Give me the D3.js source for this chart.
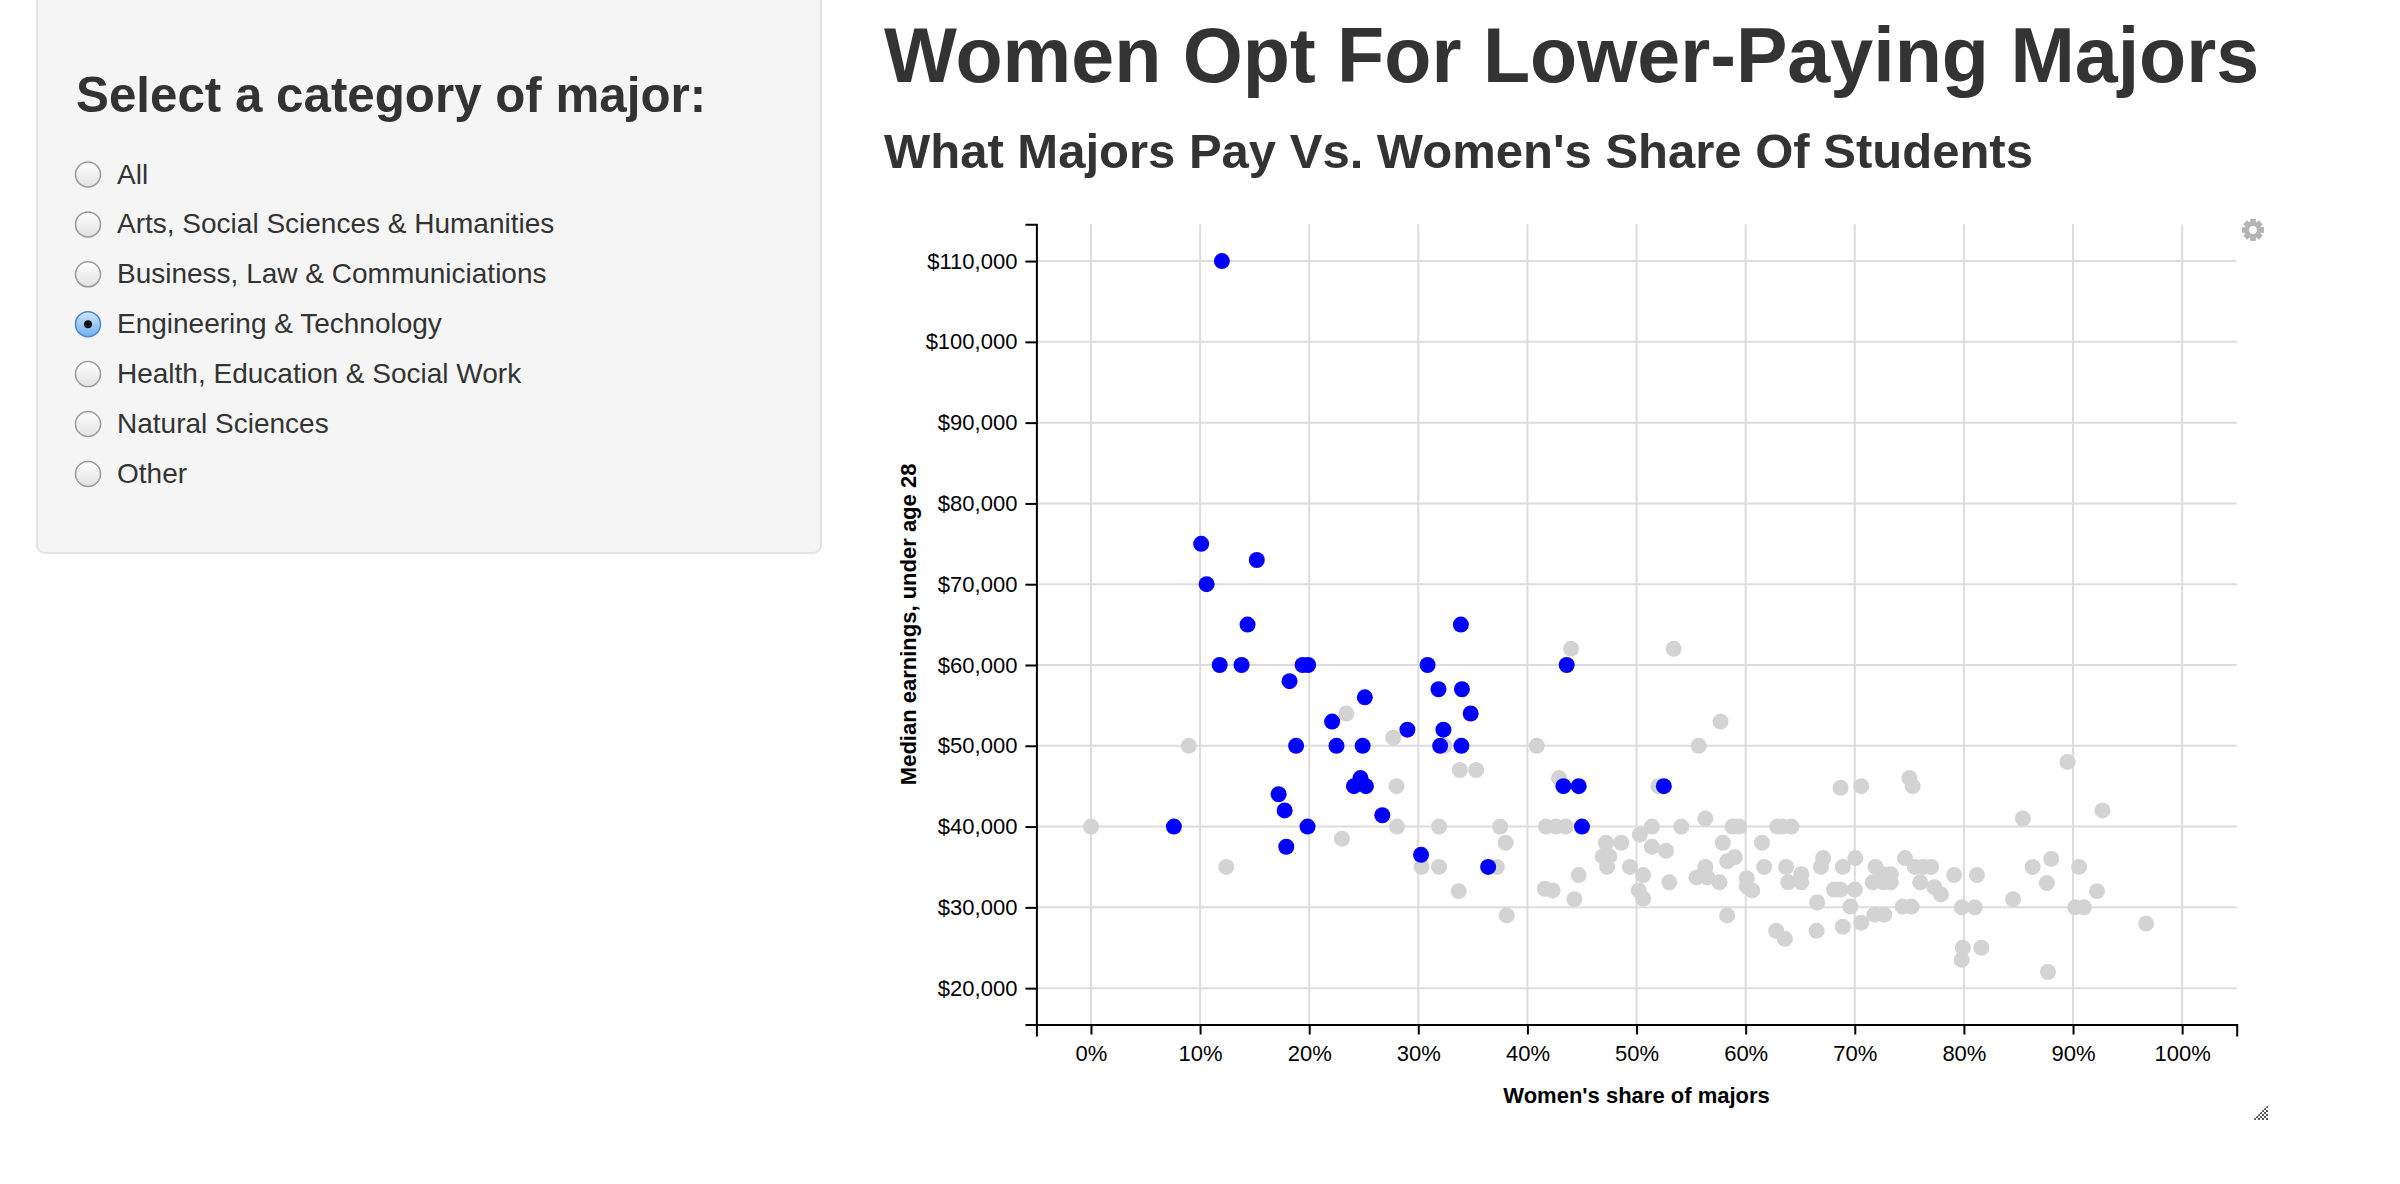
<!DOCTYPE html>
<html>
<head>
<meta charset="utf-8">
<script src="https://cdn.jsdelivr.net/npm/d3@7"></script>
<style>
    body { margin: 0; background: #fff; overflow: hidden; }
    svg { display: block; font-family: "Liberation Sans", Arial, Helvetica, sans-serif; }
</style>
</head>
<body>
<div id="page"></div>
<script>
// categories offered in the side panel
const categories = ["All", "Arts, Social Sciences & Humanities", "Business, Law & Communiciations",
    "Engineering & Technology", "Health, Education & Social Work", "Natural Sciences", "Other"];
const selectedCategory = "Engineering & Technology";

// selected category (blue): women's share and median earnings
const engShare = [0.120, 0.101, 0.152, 0.106, 0.1435, 0.339, 0.118, 0.138, 0.194, 0.199,
    0.3085, 0.436, 0.182, 0.3185, 0.340, 0.251, 0.348, 0.221, 0.290, 0.323,
    0.188, 0.225, 0.249, 0.320, 0.3395, 0.247, 0.241, 0.252, 0.433, 0.447,
    0.525, 0.172, 0.1775, 0.267, 0.076, 0.1985, 0.450, 0.179, 0.3025, 0.364];
const engEarnings = [110000, 75000, 73000, 70000, 65000, 65000, 60000, 60000, 60000, 60000,
    60000, 60000, 58000, 57000, 57000, 56000, 54000, 53000, 52000, 52000,
    50000, 50000, 50000, 50000, 50000, 46000, 45000, 45000, 45000, 45000,
    45000, 44000, 42000, 41400, 40000, 40000, 40000, 37500, 36500, 35000];

// every other major (grey)
const otherShare = [0.000, 0.0897, 0.124, 0.234, 0.277, 0.280, 0.2805, 0.230, 0.319, 0.303,
    0.319, 0.337, 0.338, 0.353, 0.375, 0.380, 0.372, 0.381, 0.324,
    0.440, 0.534, 0.577, 0.557, 0.4085, 0.429, 0.520, 0.687, 0.706, 0.563,
    0.417, 0.426, 0.435, 0.514, 0.541, 0.588, 0.594, 0.629, 0.634, 0.642,
    0.472, 0.486, 0.503, 0.514, 0.527, 0.469, 0.475, 0.473, 0.494, 0.506,
    0.447, 0.416, 0.423, 0.443, 0.502, 0.506, 0.530, 0.555, 0.563, 0.565,
    0.576, 0.579, 0.583, 0.590, 0.583, 0.601, 0.601, 0.606, 0.615, 0.617,
    0.637, 0.639, 0.651, 0.651, 0.6655, 0.628, 0.636, 0.665, 0.671, 0.669,
    0.689, 0.7005, 0.681, 0.687, 0.700, 0.696, 0.689, 0.706, 0.719, 0.7165,
    0.726, 0.733, 0.726, 0.733, 0.718, 0.727, 0.744, 0.752, 0.746,
    0.750, 0.753, 0.895, 0.854, 0.927, 0.755, 0.763, 0.770, 0.760, 0.773,
    0.779, 0.791, 0.812, 0.798, 0.810, 0.845, 0.863, 0.880, 0.876, 0.9055,
    0.922, 0.902, 0.910, 0.967, 0.799, 0.798, 0.816, 0.877];
const otherEarnings = [40000, 50000, 35000, 54000, 51000, 45000, 40000, 38500, 40000, 35000,
    35000, 32000, 47000, 47000, 40000, 38000, 35000, 29000, 50000,
    62000, 62000, 53000, 50000, 50000, 46000, 45000, 44800, 45000, 41000,
    40000, 40000, 40000, 40000, 40000, 40000, 40000, 40000, 40000, 40000,
    38000, 38000, 39000, 37500, 37000, 36300, 36300, 35000, 35000, 34000,
    34000, 32300, 32100, 31000, 32100, 31100, 33100, 33700, 35000, 33700,
    33100, 38000, 35700, 36200, 29000, 33600, 32600, 32100, 38000, 35000,
    35000, 33100, 34100, 33100, 30600, 27100, 26100, 27100, 36100, 35000,
    35000, 36100, 32200, 32200, 32200, 30100, 27600, 28100, 35000, 33100,
    33100, 33100, 34100, 34100, 29100, 29100, 30100, 30100, 36100,
    46000, 45000, 48000, 41000, 42000, 35000, 35000, 35000, 33100, 32500,
    31600, 34000, 34000, 30000, 30000, 31000, 35000, 36000, 33000, 35000,
    32000, 30000, 30000, 28000, 25000, 23500, 25000, 22000];

// axis ticks
const xTicks = [0, 0.1, 0.2, 0.3, 0.4, 0.5, 0.6, 0.7, 0.8, 0.9, 1.0];
const yTicks = [20000, 30000, 40000, 50000, 60000, 70000, 80000, 90000, 100000, 110000];

const W = 2400, H = 1184;
const plot = {left: 1036.4, right: 2236.7, top: 224.3, bottom: 1024.5};
const chartFont = "'Helvetica Neue', 'Liberation Sans', Arial, sans-serif";

let svg = d3.select("#page").append("svg")
    .attr("width", W)
    .attr("height", H);

// gradients for the radio buttons, checker for the resize handle
let defs = svg.append("defs");
let offGrad = defs.append("linearGradient").attr("id", "radioOff")
    .attr("x1", 0).attr("y1", 0).attr("x2", 0).attr("y2", 1);
offGrad.append("stop").attr("offset", "0%").attr("stop-color", "#ffffff");
offGrad.append("stop").attr("offset", "100%").attr("stop-color", "#e2e2e2");
let onGrad = defs.append("linearGradient").attr("id", "radioOn")
    .attr("x1", 0).attr("y1", 0).attr("x2", 0).attr("y2", 1);
onGrad.append("stop").attr("offset", "0%").attr("stop-color", "#cfe6fb");
onGrad.append("stop").attr("offset", "100%").attr("stop-color", "#6fb1ef");
let checker = defs.append("pattern").attr("id", "checker")
    .attr("width", 4).attr("height", 4)
    .attr("patternUnits", "userSpaceOnUse");
checker.append("rect").attr("width", 2).attr("height", 2).attr("fill", "#555");
checker.append("rect").attr("x", 2).attr("y", 2).attr("width", 2).attr("height", 2).attr("fill", "#555");

// ---- side panel ----
let panel = svg.append("g").attr("class", "well");
panel.append("rect")
    .attr("x", 37).attr("y", -40)
    .attr("width", 784).attr("height", 593)
    .attr("rx", 8)
    .attr("fill", "#f5f5f5")
    .attr("stroke", "#e3e3e3")
    .attr("stroke-width", 2);

panel.append("text")
    .attr("x", 76).attr("y", 111.5)
    .attr("font-size", 49.3)
    .attr("font-weight", "bold")
    .attr("fill", "#333")
    .text("Select a category of major:");

let items = panel.selectAll(".radio")
    .data(categories)
    .enter().append("g")
    .attr("class", "radio")
    .attr("transform", (d, i) => `translate(0, ${183.5 + i * 49.9})`);

items.append("circle")
    .attr("cx", 88).attr("cy", -9)
    .attr("r", 12.5)
    .attr("fill", d => d === selectedCategory ? "url(#radioOn)" : "url(#radioOff)")
    .attr("stroke", d => d === selectedCategory ? "#4a87cf" : "#9a9a9a")
    .attr("stroke-width", 1.5);

items.filter(d => d === selectedCategory).append("circle")
    .attr("cx", 88).attr("cy", -9)
    .attr("r", 4)
    .attr("fill", "#111");

items.append("text")
    .attr("x", 117)
    .attr("font-size", 28)
    .attr("fill", "#333")
    .text(d => d);

// ---- headings ----
svg.append("text")
    .attr("x", 884).attr("y", 81.7)
    .attr("font-size", 77.2)
    .attr("font-weight", "bold")
    .attr("fill", "#333")
    .text("Women Opt For Lower-Paying Majors");

svg.append("text")
    .attr("x", 884).attr("y", 168.3)
    .attr("font-size", 49)
    .attr("font-weight", "bold")
    .attr("fill", "#333")
    .text("What Majors Pay Vs. Women's Share Of Students");

// ---- scatter plot ----
let x = d3.scaleLinear()
    .domain([-0.05, 1.05])
    .range([plot.left, plot.right]);

let y = d3.scaleLinear()
    .domain([15500, 114550])
    .range([plot.bottom, plot.top]);

let chart = svg.append("g").attr("class", "chart");

// grid
chart.append("g").selectAll("line")
    .data(xTicks)
    .enter().append("line")
    .attr("x1", d => x(d)).attr("x2", d => x(d))
    .attr("y1", plot.top).attr("y2", plot.bottom)
    .attr("stroke", "#dcdcdc")
    .attr("stroke-width", 2);

chart.append("g").selectAll("line")
    .data(yTicks)
    .enter().append("line")
    .attr("x1", plot.left).attr("x2", plot.right)
    .attr("y1", d => y(d)).attr("y2", d => y(d))
    .attr("stroke", "#dcdcdc")
    .attr("stroke-width", 2);

// points
let others = otherShare.map((d, i) => ({share: d, earnings: otherEarnings[i]}));
let eng = engShare.map((d, i) => ({share: d, earnings: engEarnings[i]}));

chart.append("g").selectAll("circle")
    .data(others)
    .enter().append("circle")
    .attr("cx", d => x(d.share))
    .attr("cy", d => y(d.earnings))
    .attr("r", 8)
    .attr("fill", "#d3d3d3");

chart.append("g").selectAll("circle")
    .data(eng)
    .enter().append("circle")
    .attr("cx", d => x(d.share))
    .attr("cy", d => y(d.earnings))
    .attr("r", 8)
    .attr("fill", "#0000ff");

// axes
let yAxis = d3.axisLeft(y)
    .tickValues(yTicks)
    .tickFormat(d3.format("$,"))
    .tickSizeInner(11)
    .tickSizeOuter(11)
    .tickPadding(8);

let xAxis = d3.axisBottom(x)
    .tickValues(xTicks)
    .tickFormat(d3.format(".0%"))
    .tickSizeInner(10)
    .tickSizeOuter(12)
    .tickPadding(11);

let yG = chart.append("g")
    .attr("transform", `translate(${plot.left},0)`)
    .call(yAxis);

let xG = chart.append("g")
    .attr("transform", `translate(0,${plot.bottom})`)
    .call(xAxis);

[yG, xG].forEach(function(g) {
    g.attr("font-family", chartFont).attr("font-size", 22);
    g.select(".domain").attr("stroke", "#000").attr("stroke-width", 2);
    g.selectAll(".tick line").attr("stroke", "#000").attr("stroke-width", 2);
    g.selectAll(".tick text").attr("fill", "#000");
});

// axis titles
chart.append("text")
    .attr("transform", `translate(916, ${(plot.top + plot.bottom) / 2}) rotate(-90)`)
    .attr("text-anchor", "middle")
    .attr("font-family", chartFont)
    .attr("font-size", 22)
    .attr("font-weight", "bold")
    .attr("fill", "#000")
    .text("Median earnings, under age 28");

chart.append("text")
    .attr("x", (plot.left + plot.right) / 2)
    .attr("y", 1103)
    .attr("text-anchor", "middle")
    .attr("font-family", chartFont)
    .attr("font-size", 22)
    .attr("font-weight", "bold")
    .attr("fill", "#000")
    .text("Women's share of majors");

// gear icon of the plot widget
let gear = svg.append("g").attr("transform", "translate(2253,230)");
d3.range(8).forEach(function(i) {
    gear.append("rect")
        .attr("x", -2.8).attr("y", -11)
        .attr("width", 5.6).attr("height", 6)
        .attr("fill", "#b4b4b4")
        .attr("transform", `rotate(${i * 45})`);
});
gear.append("circle")
    .attr("r", 6.2)
    .attr("fill", "none")
    .attr("stroke", "#b4b4b4")
    .attr("stroke-width", 4.6);

// resize handle
svg.append("path")
    .attr("d", "M2268,1105 L2268,1120 L2253,1120 Z")
    .attr("fill", "url(#checker)");
</script>
</body>
</html>
